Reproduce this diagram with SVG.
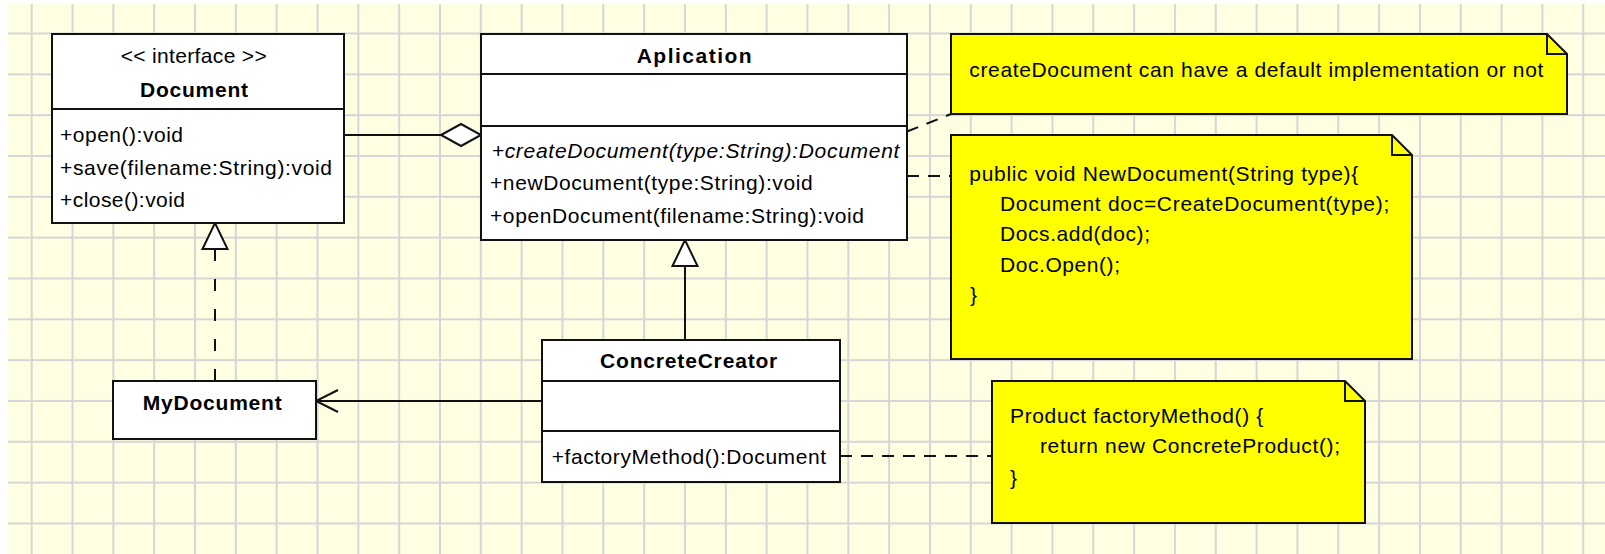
<svg xmlns="http://www.w3.org/2000/svg" width="1605" height="554" viewBox="0 0 1605 554">
  <style>
    .box { fill: #ffffff; stroke: #111111; stroke-width: 2; }
    .note { fill: #ffff00; stroke: #111111; stroke-width: 2; stroke-linejoin: miter; }
    .sep { stroke: #111111; stroke-width: 2; fill: none; }
    .t { font-family: "Liberation Sans", Arial, sans-serif; font-size: 21px; fill: #000000; }
    .b { font-weight: bold; }
    .i { font-style: italic; }
    .edge { stroke: #111111; stroke-width: 2; fill: none; }
    .dash { stroke-dasharray: 12 9; }
    .dash-v { stroke-dasharray: 12 18; }
  </style>
  <defs>
    <pattern id="grid" patternUnits="userSpaceOnUse" x="30.7" y="32.5" width="40.83" height="40.83">
      <rect x="0" y="0" width="2" height="40.83" fill="#d6d6d6"/>
      <rect x="0" y="0" width="40.83" height="2" fill="#d6d6d6"/>
    </pattern>
    <!-- hollow diamond for aggregation -->
    <marker id="diamond" markerUnits="userSpaceOnUse" viewBox="-1 -1 42 24" refX="40" refY="11" markerWidth="42" markerHeight="24" orient="auto" overflow="visible">
      <path d="M0,11 L20,0 L40,11 L20,22 Z" fill="#ffffff" stroke="#111111" stroke-width="2"/>
    </marker>
    <!-- hollow triangle for generalization / realization -->
    <marker id="tri" markerUnits="userSpaceOnUse" viewBox="-1 -1 29 27" refX="26" refY="12.5" markerWidth="29" markerHeight="27" orient="auto" overflow="visible">
      <path d="M0,0 L26,12.5 L0,25 Z" fill="#ffffff" stroke="#111111" stroke-width="2"/>
    </marker>
    <!-- open arrowhead for navigable association -->
    <marker id="open" markerUnits="userSpaceOnUse" viewBox="-1 -1 25 24" refX="22" refY="11" markerWidth="25" markerHeight="24" orient="auto" overflow="visible">
      <path d="M0,0 L22,11 L0,22" fill="none" stroke="#111111" stroke-width="2"/>
    </marker>
  </defs>

  <!-- canvas -->
  <rect x="0" y="0" width="1605" height="554" fill="#ffffff"/>
  <rect x="8" y="4" width="1597" height="550" fill="#fefee2"/>
  <rect x="8" y="4" width="1597" height="550" fill="url(#grid)"/>

  <g id="connectors">
    <!-- Application aggregates Document -->
    <path class="edge" d="M344,135 H481" marker-end="url(#diamond)"/>
    <!-- ConcreteCreator extends Application -->
    <path class="edge" d="M685,340 V240" marker-end="url(#tri)"/>
    <!-- MyDocument realizes Document -->
    <path class="edge dash-v" d="M215,381 V223" marker-end="url(#tri)"/>
    <!-- ConcreteCreator uses MyDocument -->
    <path class="edge" d="M542,401 H316" marker-end="url(#open)"/>
    <!-- note anchors -->
    <path class="edge dash" d="M907,131.5 L951,114"/>
    <path class="edge dash" d="M907,176 H951"/>
    <path class="edge dash" d="M840,456 H992"/>
  </g>

  <g id="document">
    <rect class="box" x="52" y="34" width="292" height="189"/>
    <path class="sep" d="M52,109 H344"/>
    <text class="t" x="120.7" y="63.3" textLength="146" lengthAdjust="spacing">&lt;&lt; interface &gt;&gt;</text>
    <text class="t b" x="140" y="97.3" textLength="108" lengthAdjust="spacing">Document</text>
    <text class="t" x="60" y="141.7" textLength="123" lengthAdjust="spacing">+open():void</text>
    <text class="t" x="60" y="175" textLength="272" lengthAdjust="spacing">+save(filename:String):void</text>
    <text class="t" x="60" y="207.3" textLength="125" lengthAdjust="spacing">+close():void</text>
  </g>

  <g id="application">
    <rect class="box" x="481" y="34" width="426" height="206"/>
    <path class="sep" d="M481,74 H907 M481,126 H907"/>
    <text class="t b" x="636.7" y="62.7" textLength="115" lengthAdjust="spacing">Aplication</text>
    <text class="t i" x="491.7" y="158" textLength="407.7" lengthAdjust="spacing">+createDocument(type:String):Document</text>
    <text class="t" x="490" y="190" textLength="322.7" lengthAdjust="spacing">+newDocument(type:String):void</text>
    <text class="t" x="490" y="222.7" textLength="374" lengthAdjust="spacing">+openDocument(filename:String):void</text>
  </g>

  <g id="concrete-creator">
    <rect class="box" x="542" y="340" width="298" height="142"/>
    <path class="sep" d="M542,381 H840 M542,431 H840"/>
    <text class="t b" x="600" y="368.3" textLength="177.3" lengthAdjust="spacing">ConcreteCreator</text>
    <text class="t" x="551.7" y="464" textLength="274.3" lengthAdjust="spacing">+factoryMethod():Document</text>
  </g>

  <g id="my-document">
    <rect class="box" x="113" y="381" width="203" height="58"/>
    <text class="t b" x="142.7" y="410" textLength="139" lengthAdjust="spacing">MyDocument</text>
  </g>

  <g id="note-default">
    <path class="note" d="M951,34 H1547 L1567,54 V114 H951 Z"/>
    <path class="sep" d="M1547,34 V54 H1567"/>
    <text class="t" x="969.3" y="76.7" textLength="574" lengthAdjust="spacing">createDocument can have a default implementation or not</text>
  </g>

  <g id="note-new-document">
    <path class="note" d="M951,135 H1392 L1412,155 V359 H951 Z"/>
    <path class="sep" d="M1392,135 V155 H1412"/>
    <text class="t" x="969.3" y="181" textLength="389" lengthAdjust="spacing">public void NewDocument(String type){</text>
    <text class="t" x="1000" y="210.7" textLength="389.3" lengthAdjust="spacing">Document doc=CreateDocument(type);</text>
    <text class="t" x="1000" y="240.7" textLength="150" lengthAdjust="spacing">Docs.add(doc);</text>
    <text class="t" x="1000" y="271.7" textLength="120" lengthAdjust="spacing">Doc.Open();</text>
    <text class="t" x="970" y="301.7">}</text>
  </g>

  <g id="note-factory-method">
    <path class="note" d="M992,381 H1345 L1365,401 V523 H992 Z"/>
    <path class="sep" d="M1345,381 V401 H1365"/>
    <text class="t" x="1010" y="423.3" textLength="253.3" lengthAdjust="spacing">Product factoryMethod() {</text>
    <text class="t" x="1040" y="453.3" textLength="300" lengthAdjust="spacing">return new ConcreteProduct();</text>
    <text class="t" x="1010" y="485">}</text>
  </g>
</svg>
